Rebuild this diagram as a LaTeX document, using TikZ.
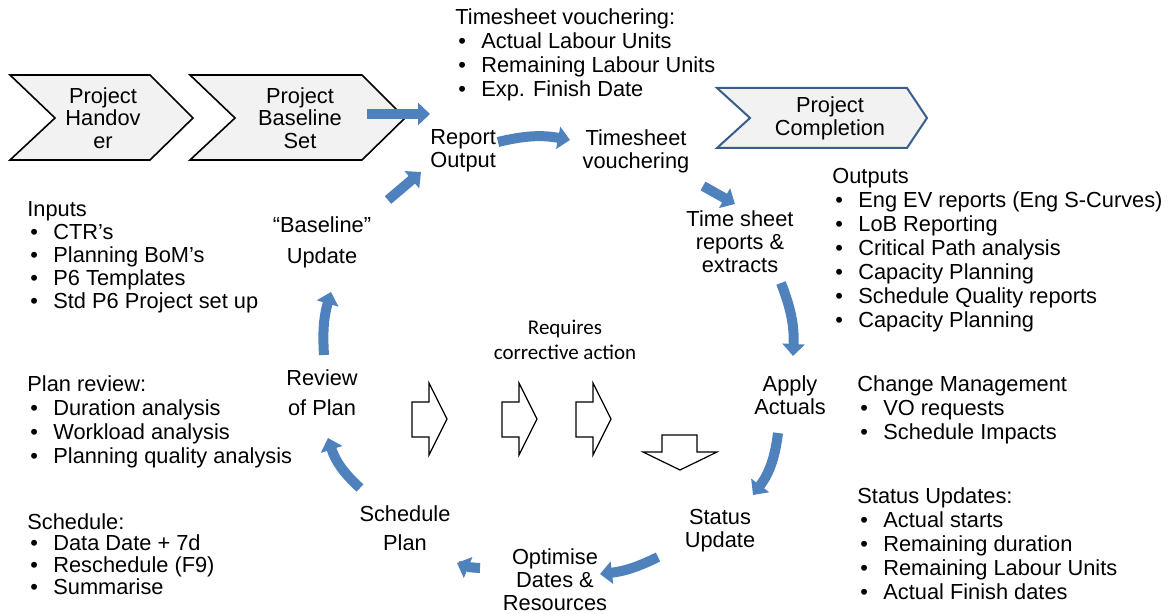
\documentclass[tikz,border=0pt]{standalone}
\usepackage{fontspec}
\setmainfont{Liberation Sans}
\newfontfamily\calib{Carlito}
\usepackage{tikz}
\usetikzlibrary{arrows.meta}
\usepackage{xcolor}
\definecolor{flowblue}{RGB}{79,129,189}
\definecolor{edgeblue}{RGB}{56,93,138}
\definecolor{chevgray}{RGB}{242,242,242}
\newcommand{\bul}{\hspace*{1.5pt}\makebox[11.5pt][l]{\textbullet}}

\begin{document}
\begin{tikzpicture}[x=0.5pt, y=-0.5pt,
  lst/.style={anchor=west, align=left, inner sep=0pt, font=\fontsize{10.9}{12}\selectfont},
  lbl/.style={align=center, inner sep=0pt, font=\fontsize{10.9}{11.5}\selectfont},
  flow/.style={line width=5pt, draw=flowblue, -{Triangle[width=11pt,length=6pt]}},
  hollow/.style={draw, line width=0.6pt, fill=white}]
\useasboundingbox (0,0) rectangle (1173,614);

\draw[fill=chevgray, line width=0.8pt] (10,75) -- (150,75) -- (193,118) -- (150,160) -- (10,160) -- (55,118) -- cycle;
\draw[fill=chevgray, line width=0.8pt] (190,75) -- (362,75) -- (405,118) -- (362,160) -- (190,160) -- (235,118) -- cycle;
\draw[fill=chevgray, draw=edgeblue, line width=1pt] (717,88) -- (907,88) -- (927,118) -- (907,148) -- (717,148) -- (750,118) -- cycle;
\node[lbl, font=\fontsize{10.9}{11.25}\selectfont] (hand) at (103,118) {Project\\Handov\\er};
\node[lbl, font=\fontsize{10.9}{11.25}\selectfont] (base) at (300,118) {Project\\Baseline\\Set};
\node[lbl] (comp) at (830,118) {Project\\Completion};

\node[lst] (tsv) at (455,55) {Timesheet vouchering:\\\bul Actual Labour Units\\\bul Remaining Labour Units\\\bul Exp. Finish Date};
\node[lst, font=\fontsize{10.9}{11.5}\selectfont] (inputs) at (27,257) {Inputs\\\bul CTR’s\\\bul Planning BoM’s\\\bul P6 Templates\\\bul Std P6 Project set up};
\node[lst] (planrev) at (27,422) {Plan review:\\\bul Duration analysis\\\bul Workload analysis\\\bul Planning quality analysis};
\node[lst, font=\fontsize{10.9}{10.9}\selectfont] (sched) at (27,554) {Schedule:\\\bul Data Date + 7d\\\bul Reschedule (F9)\\\bul Summarise};
\node[lst] (outputs) at (832,250) {Outputs\\\bul Eng EV reports (Eng S-Curves)\\\bul LoB Reporting\\\bul Critical Path analysis\\\bul Capacity Planning\\\bul Schedule Quality reports\\\bul Capacity Planning};
\node[lst] (change) at (857,410) {Change Management\\\bul VO requests\\\bul Schedule Impacts};
\node[lst] (status) at (857,544) {Status Updates:\\\bul Actual starts\\\bul Remaining duration\\\bul Remaining Labour Units\\\bul Actual Finish dates};

\node[lbl, align=left, anchor=west] (rep) at (430,151) {Report\\Output};
\node[lbl] (vouch) at (636,151) {Timesheet\\vouchering};
\node[lbl] (tsr) at (740,242) {Time sheet\\reports \&\\extracts};
\node[lbl] (app) at (790,395) {Apply\\Actuals};
\node[lbl] (upd) at (720,531) {Status\\Update};
\node[lbl] (opt) at (555,580) {Optimise\\Dates \&\\Resources};
\node[lbl] (plan) at (405,528) {Schedule\\[3pt]Plan};
\node[lbl] (rev) at (322,393) {Review\\[3.5pt]of Plan};
\node[lbl] (bline) at (322,242) {“Baseline”\\[4pt]Update};
\node[lbl, font=\calib\fontsize{10.5}{12.5}\selectfont] (req) at (565,340) {Requires\\corrective action};

\coordinate (a1s) at (367,114); \coordinate (a1e) at (430,114);
\coordinate (a2s) at (498,142); \coordinate (a2e) at (570,140);
\coordinate (a3s) at (703,186); \coordinate (a3e) at (735,204);
\coordinate (a4s) at (781,283); \coordinate (a4e) at (793,356);
\coordinate (a5s) at (778,433); \coordinate (a5e) at (753,495);
\coordinate (a6s) at (658,557); \coordinate (a6e) at (600,574);
\coordinate (a7s) at (480,568); \coordinate (a7e) at (457,563);
\coordinate (a8s) at (360,488); \coordinate (a8e) at (328,438);
\coordinate (a9s) at (324,355); \coordinate (a9e) at (331,292);
\coordinate (a10s) at (388,200); \coordinate (a10e) at (421,172);

\draw[flow] (a1s) -- (a1e);
\draw[flow] (a2s) to[bend left=12] (a2e);
\draw[flow] (a3s) -- (a3e);
\draw[flow] (a4s) to[bend left=12] (a4e);
\draw[flow] (a5s) to[bend left=15] (a5e);
\draw[flow] (a6s) to[bend left=10] (a6e);
\draw[flow] (a7s) to[bend left=10] (a7e);
\draw[flow] (a8s) to[bend left=15] (a8e);
\draw[flow] (a9s) to[bend left=10] (a9e);
\draw[flow] (a10s) -- (a10e);

\foreach \dx in {0,90,164}
  \draw[hollow, xshift=\dx*0.5pt] (412,402) -- (429,402) -- (429,383) -- (447,419) -- (429,455) -- (429,437) -- (412,437) -- cycle;
\draw[hollow] (662,435) -- (697,435) -- (697,452) -- (717,452) -- (680,470) -- (643,452) -- (662,452) -- cycle;
\end{tikzpicture}
\end{document}
